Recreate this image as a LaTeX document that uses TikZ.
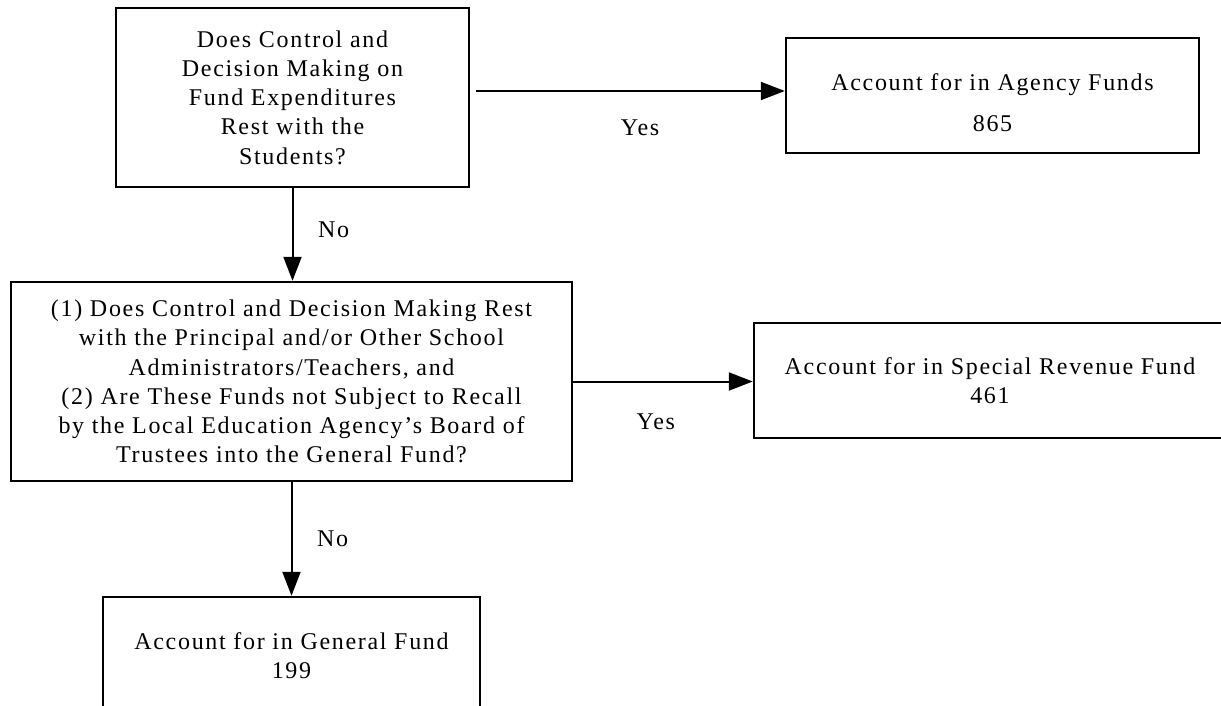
\documentclass[tikz,border=0pt]{standalone}
\usepackage{fontspec}
\setmainfont{Liberation Serif}[LetterSpace=7]
\usepackage{tikz}
\usetikzlibrary{arrows.meta}
\tikzstyle{question} = [rectangle, draw=black, line width=1.2pt, align=center, font=\fontsize{12}{14.6}\selectfont]
\tikzstyle{result} = [rectangle, draw=black, line width=1.2pt, align=center, minimum height=57.5pt, font=\fontsize{12}{14.6}\selectfont]
\tikzstyle{answer} = [font=\fontsize{12}{14.6}\selectfont]
\tikzstyle{arrow} = [line width=1pt, -{Triangle[length=12pt,width=9pt]}]

\begin{document}
\begin{tikzpicture}
	\useasboundingbox (0,0) rectangle (610.5pt,-353pt);
	\node (q1) [question, minimum width=176.5pt, minimum height=89.5pt] at (146.25pt,-48.75pt) {Does Control and\\ Decision Making on\\ Fund Expenditures\\ Rest with the\\ Students?};
	\node (q2) [question, minimum width=280.5pt, minimum height=99.5pt, node distance=142pt, below of=q1, xshift=-0.5pt] {(1) Does Control and Decision Making Rest\\ with the Principal and/or Other School\\ Administrators/Teachers, and\\ (2) Are These Funds not Subject to Recall\\ by the Local Education Agency’s Board of\\ Trustees into the General Fund?};
	\node (general) [result, minimum width=188.5pt, minimum height=59pt, node distance=137.25pt, below of=q2] {Account for in General Fund\\ 199};
	\node (agency) [result, minimum width=206.5pt, node distance=350pt, right of=q1, yshift=1pt] {\rule{0pt}{16pt}Account for in Agency Funds\\[6pt] 865};
	\node (special) [result, minimum width=236pt, node distance=349.25pt, right of=q2, yshift=0.5pt] {Account for in Special Revenue Fund\\ 461};
	\coordinate (yesin) at ([yshift=2.25pt]agency.west);
	\draw [arrow, shorten <=3pt] (q1.east |- yesin) -- node [answer, pos=0.54, below=10.5pt] {Yes} (yesin);
	\draw [arrow] (q1.south) -- node [answer, pos=0.45, right=9pt] {No} (q1.south |- q2.north);
	\draw [arrow] (q2.east) -- node [answer, pos=0.46, below=12.5pt] {Yes} (q2.east -| special.west);
	\draw [arrow] (q2.south) -- node [answer, right=9pt] {No} (general.north);
\end{tikzpicture}
\end{document}
